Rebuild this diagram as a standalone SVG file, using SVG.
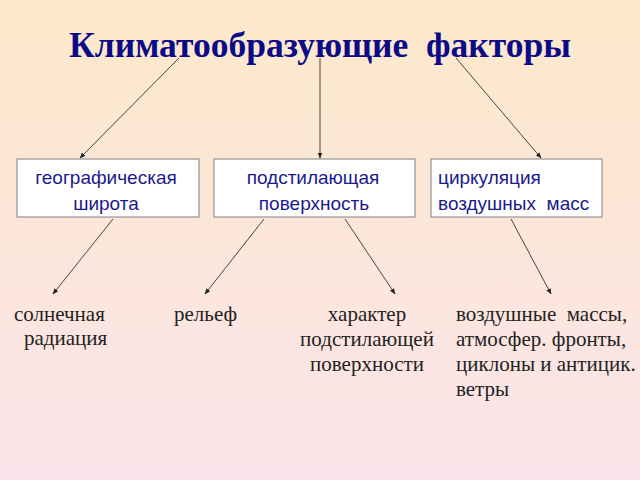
<svg xmlns="http://www.w3.org/2000/svg" width="640" height="480" viewBox="0 0 640 480">
<defs>
<linearGradient id="bg" x1="0" y1="0" x2="0" y2="1">
<stop offset="0" stop-color="#fde9ca"/>
<stop offset="1" stop-color="#fbe4ea"/>
</linearGradient>
<marker id="ah" viewBox="0 0 10 10" refX="9" refY="5" markerWidth="6" markerHeight="6" markerUnits="userSpaceOnUse" orient="auto">
<path d="M0,1 L10,5 L0,9 z" fill="#222"/>
</marker>
<style>
.title{font-family:"Liberation Serif","Times New Roman",serif;font-weight:bold;font-size:35.5px;fill:#0b0b88}
.box{fill:#fff;stroke:#808080;stroke-width:1}
.bt{font-family:"Liberation Sans",Arial,sans-serif;font-size:19px;fill:#1a1a8e}
.lt{font-family:"Liberation Serif","Times New Roman",serif;font-size:21px;fill:#222}
.con line{stroke:#444;stroke-width:1;marker-end:url(#ah)}
</style>
</defs>
<rect width="640" height="480" fill="url(#bg)"/>
<g id="title"><text class="title" x="320" y="57" text-anchor="middle" xml:space="preserve">Климатообразующие  факторы</text></g>
<g class="con" id="connectors">
<line x1="179" y1="58" x2="80" y2="158"/>
<line x1="320" y1="58" x2="320" y2="158"/>
<line x1="456" y1="58" x2="541" y2="158"/>
<line x1="113" y1="219" x2="53" y2="294"/>
<line x1="264" y1="219" x2="205" y2="294"/>
<line x1="345" y1="219" x2="395" y2="294"/>
<line x1="511" y1="219" x2="551" y2="294"/>
</g>
<g id="box1"><rect class="box" x="17" y="159" width="182" height="58"/>
<text class="bt" x="106" y="184" text-anchor="middle">географическая</text>
<text class="bt" x="106" y="210" text-anchor="middle">широта</text></g>
<g id="box2"><rect class="box" x="214" y="159" width="201" height="58"/>
<text class="bt" x="313" y="184" text-anchor="middle">подстилающая</text>
<text class="bt" x="314" y="210" text-anchor="middle">поверхность</text></g>
<g id="box3"><rect class="box" x="431" y="159" width="171" height="58"/>
<text class="bt" x="438" y="184">циркуляция</text>
<text class="bt" x="438" y="210" xml:space="preserve">воздушных  масс</text></g>
<g id="n1"><text class="lt" x="14" y="321">солнечная</text><text class="lt" x="24" y="345">радиация</text></g>
<g id="n2"><text class="lt" x="174" y="321">рельеф</text></g>
<g id="n3"><text class="lt" x="367" y="321" text-anchor="middle">характер</text><text class="lt" x="367" y="346" text-anchor="middle">подстилающей</text><text class="lt" x="367" y="371" text-anchor="middle">поверхности</text></g>
<g id="n4"><text class="lt" x="456" y="321" xml:space="preserve">воздушные  массы,</text><text class="lt" x="456" y="346">атмосфер. фронты,</text><text class="lt" x="456" y="371">циклоны и антицик.</text><text class="lt" x="456" y="396">ветры</text></g>
</svg>
